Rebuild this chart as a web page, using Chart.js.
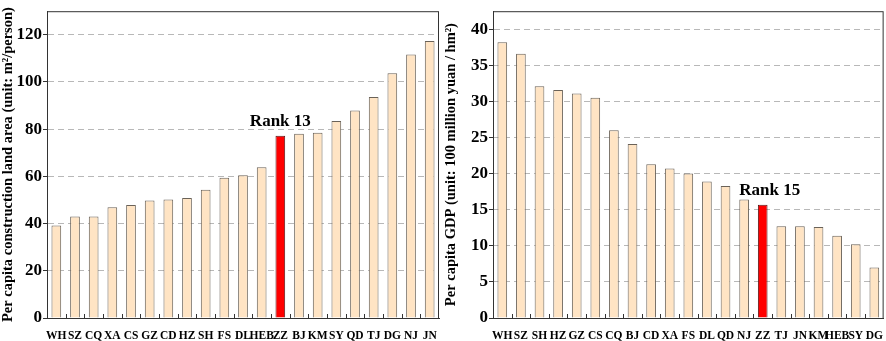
<!DOCTYPE html>
<html>
<head>
<meta charset="utf-8">
<script src="https://cdn.jsdelivr.net/npm/chart.js@4.4.1/dist/chart.umd.min.js"></script>
<style>
  html, body { margin: 0; padding: 0; background: #fff; }
  #wrap { position: relative; width: 886px; height: 341px; }
  .box { position: absolute; top: 0; width: 443px; height: 341px; }
</style>
</head>
<body>
<div id="wrap">
  <div class="box" style="left:0"><canvas id="landChart"></canvas></div>
  <div class="box" style="left:443px"><canvas id="gdpChart"></canvas></div>
</div>
<script>
// left panel: per capita construction land area (m2/person)
var landCities = ['WH','SZ','CQ','XA','CS','GZ','CD','HZ','SH','FS','DL','HEB','ZZ','BJ','KM','SY','QD','TJ','DG','NJ','JN'];
var landValues = [39.2, 43.0, 43.0, 46.9, 47.9, 49.8, 50.2, 50.9, 54.3, 59.4, 60.5, 63.9, 77.2, 78.1, 78.5, 83.5, 87.9, 93.6, 103.7, 111.7, 117.4];
var landTicks = [0, 20, 40, 60, 80, 100, 120];

// right panel: per capita GDP (100 million yuan / hm2)
var gdpCities = ['WH','SZ','SH','HZ','GZ','CS','CQ','BJ','CD','XA','FS','DL','QD','NJ','ZZ','TJ','JN','KM','HEB','SY','DG'];
var gdpValues = [38.2, 36.6, 32.1, 31.6, 31.1, 30.5, 26.0, 24.1, 21.3, 20.7, 20.0, 18.9, 18.3, 16.4, 15.7, 12.7, 12.7, 12.6, 11.4, 10.2, 7.0];
var gdpTicks = [0, 5, 10, 15, 20, 25, 30, 35, 40];

var highlight = 'ZZ';
var serif = "'Liberation Serif', 'Times New Roman', serif";

// frame + small category ticks + rank label
var extras = {
    id: 'extras',
    afterDatasetsDraw: function (chart, args, opts) {
        var ctx = chart.ctx, a = chart.chartArea;
        var xs = chart.scales.x;
        ctx.save();
        ctx.strokeStyle = '#333';
        ctx.lineWidth = 1;
        ctx.strokeRect(a.left + 0.5, a.top + 0.5, a.right - a.left - 1, a.bottom - a.top);
        // ticks between categories, pointing up
        var n = chart.data.labels.length;
        var half = (xs.getPixelForValue(1) - xs.getPixelForValue(0)) / 2;
        ctx.beginPath();
        for (var i = 0; i < n - 1; i++) {
            var px = Math.round(xs.getPixelForValue(i) + half) + 0.5;
            ctx.moveTo(px, a.bottom);
            ctx.lineTo(px, a.bottom - 4);
        }
        ctx.stroke();
        // rank label
        var idx = chart.data.labels.indexOf(highlight);
        var bar = chart.getDatasetMeta(0).data[idx];
        ctx.fillStyle = '#000';
        ctx.font = 'bold 17px ' + serif;
        ctx.textAlign = 'center';
        ctx.textBaseline = 'bottom';
        ctx.fillText(opts.text, bar.x + opts.dx, bar.y - 6);
        ctx.restore();
    }
};

var whiteBg = {
    id: 'whiteBg',
    beforeDraw: function (chart) {
        var ctx = chart.ctx;
        ctx.save();
        ctx.fillStyle = '#fff';
        ctx.fillRect(0, 0, chart.width, chart.height);
        ctx.restore();
    }
};

function makeChart(id, labels, values, ticks, max, title, rankText, rankDx, yWidth, padRight) {
    var colors = labels.map(function (c) { return c === highlight ? '#ff0000' : '#ffe4c4'; });
    var borders = labels.map(function (c) { return c === highlight ? '#5a1a1a' : '#6a6258'; });
    return new Chart(document.getElementById(id).getContext('2d'), {
        type: 'bar',
        data: {
            labels: labels,
            datasets: [{
                data: values,
                backgroundColor: colors,
                borderColor: borders,
                borderWidth: 1,
                barPercentage: 0.52,
                categoryPercentage: 1.0
            }]
        },
        options: {
            responsive: false,
            animation: false,
            devicePixelRatio: 1,
            layout: { padding: { top: 5, right: padRight, left: 0, bottom: 0 } },
            plugins: {
                legend: { display: false },
                tooltip: { enabled: false },
                extras: { text: rankText, dx: rankDx }
            },
            scales: {
                x: {
                    grid: { display: false },
                    border: { display: true, color: '#333', width: 1 },
                    ticks: {
                        color: '#000',
                        font: { family: serif, weight: 'bold', size: 11.5 },
                        maxRotation: 0,
                        autoSkip: false,
                        padding: 3
                    },
                    afterFit: function (s) { s.height = 23; }
                },
                y: {
                    min: 0,
                    max: max,
                    afterBuildTicks: function (s) {
                        s.ticks = ticks.map(function (v) { return { value: v }; });
                    },
                    grid: {
                        color: '#b8b8b8',
                        tickLength: 4,
                        tickColor: '#333',
                        tickBorderDash: []
                    },
                    border: { display: true, color: '#333', width: 1, dash: [6, 4] },
                    ticks: {
                        color: '#000',
                        font: { family: serif, weight: 'bold', size: 17 },
                        padding: 1
                    },
                    title: {
                        display: true,
                        text: title,
                        color: '#000',
                        font: { family: serif, weight: 'bold', size: 14.5 },
                        padding: { top: 0, bottom: 0 }
                    },
                    afterFit: function (s) { s.width = yWidth; }
                }
            }
        },
        plugins: [whiteBg, extras]
    });
}

function sizeCanvas(id) {
    var c = document.getElementById(id);
    c.width = 443; c.height = 341;
    c.style.width = '443px'; c.style.height = '341px';
}
sizeCanvas('landChart');
sizeCanvas('gdpChart');

makeChart('landChart', landCities, landValues, landTicks, 130,
    'Per capita construction land area (unit: m\u00b2/person)', 'Rank 13', 0, 47, 4);
makeChart('gdpChart', gdpCities, gdpValues, gdpTicks, 42.5,
    'Per capita GDP (unit: 100 million yuan / hm\u00b2)', 'Rank 15', 7, 50, 2);
</script>
</body>
</html>
